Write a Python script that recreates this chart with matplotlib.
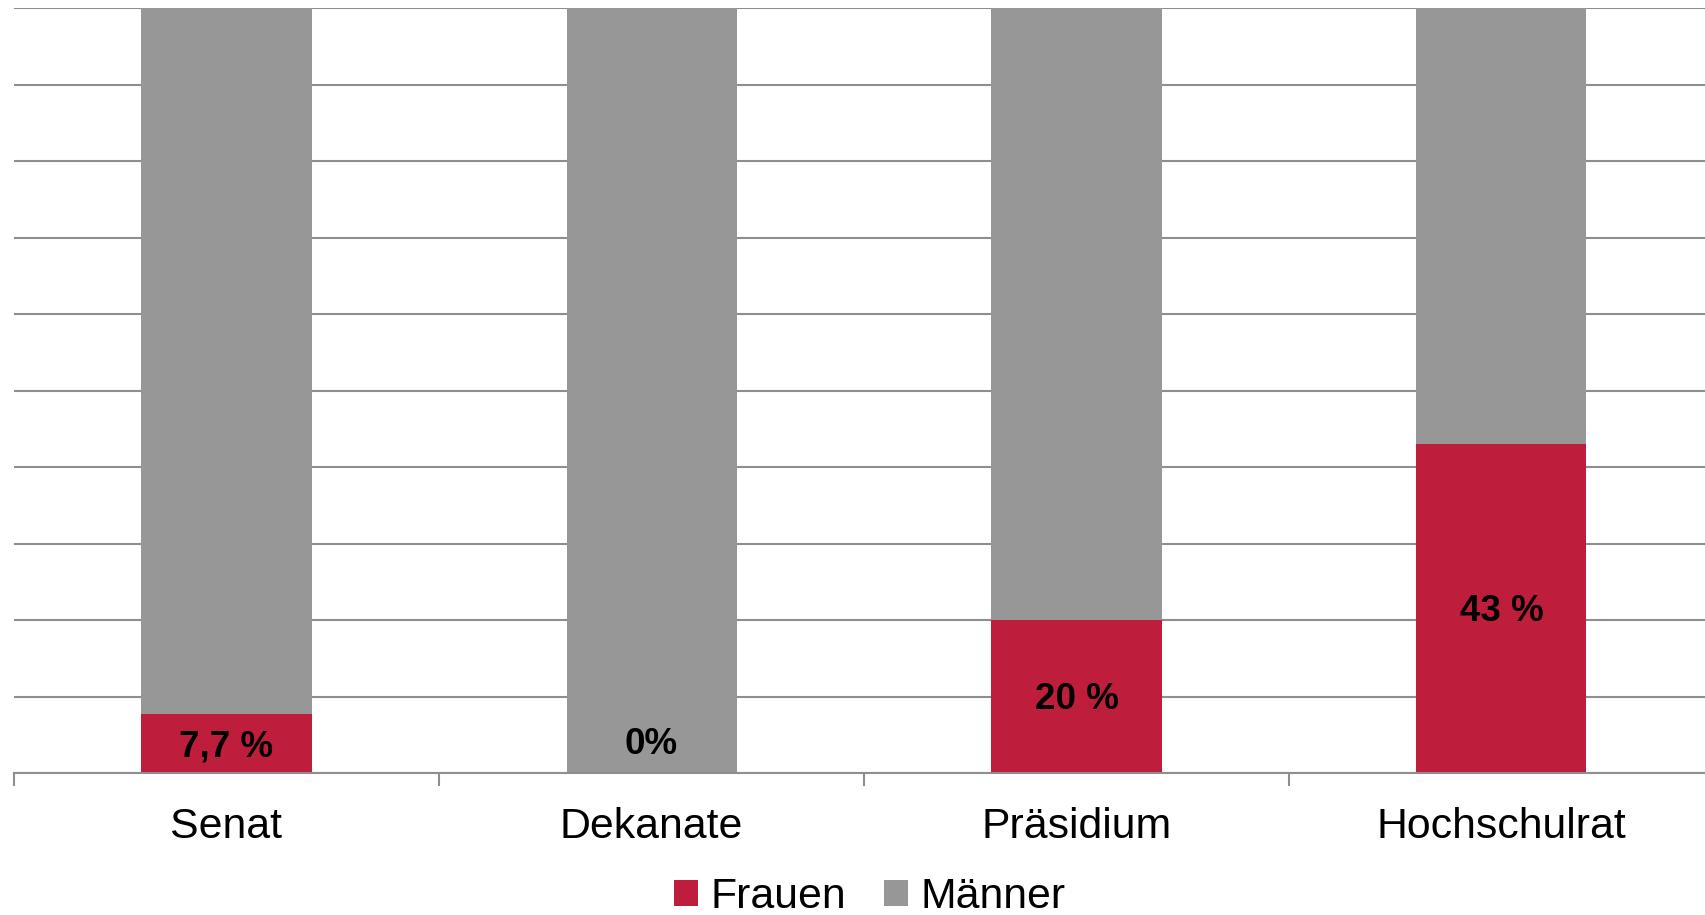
import matplotlib.pyplot as plt
import numpy as np

plt.rcParams['font.family'] = ['Liberation Sans', 'DejaVu Sans']

categories = ['Senat', 'Dekanate', 'Präsidium', 'Hochschulrat']
frauen = [7.7, 0.0, 20.0, 43.0]
maenner = [92.3, 100.0, 80.0, 57.0]
labels = ['7,7 %', '0%', '20 %', '43 %']

red = '#be1e3c'
grey = '#979797'
gridc = '#8e8e8e'

fig = plt.figure(figsize=(17.06, 9.15), dpi=100)
ax = fig.add_axes([14/1706, 142/915, 1700/1706, 765/915])

x = np.arange(len(categories))
ax.bar(x, frauen, width=0.4, color=red, label='Frauen', zorder=3)
ax.bar(x, maenner, width=0.4, bottom=frauen, color=grey, label='Männer', zorder=3)

for xi, f, lab in zip(x, frauen, labels):
    # 0 % label sits a bit above the baseline
    ypos = f / 2 if f > 0 else 4.2
    ax.annotate(lab, (xi, ypos), xytext=(0, -2.5), textcoords='offset points',
                ha='center', va='center', fontsize=26.5,
                fontweight='bold', color='black', zorder=4)

ax.set_xlim(-0.5, 3.5)
ax.set_ylim(0, 100)
ax.set_yticks(np.arange(0, 101, 10))
ax.yaxis.grid(True, color=gridc, linewidth=1.5, zorder=0)
ax.tick_params(axis='y', left=False, labelleft=False)

ax.set_xticks(x)
ax.set_xticklabels(categories, fontsize=30.8)
ax.set_xticks(np.arange(-0.5, 4, 1), minor=True)
ax.tick_params(axis='x', which='major', length=0, pad=24.5)
ax.tick_params(axis='x', which='minor', length=9, width=1.5, color=gridc)

for s in ['top', 'right', 'left']:
    ax.spines[s].set_visible(False)
ax.spines['bottom'].set_color(gridc)
ax.spines['bottom'].set_linewidth(1.5)
ax.spines['bottom'].set_zorder(5)

fig.legend(loc='center', bbox_to_anchor=(870/1706, 1 - 897/915), ncol=2,
           frameon=False, fontsize=30.8, handlelength=0.55, handleheight=0.55,
           handletextpad=0.3, columnspacing=0.9, borderpad=0)

fig.savefig('out.png', dpi=100)
